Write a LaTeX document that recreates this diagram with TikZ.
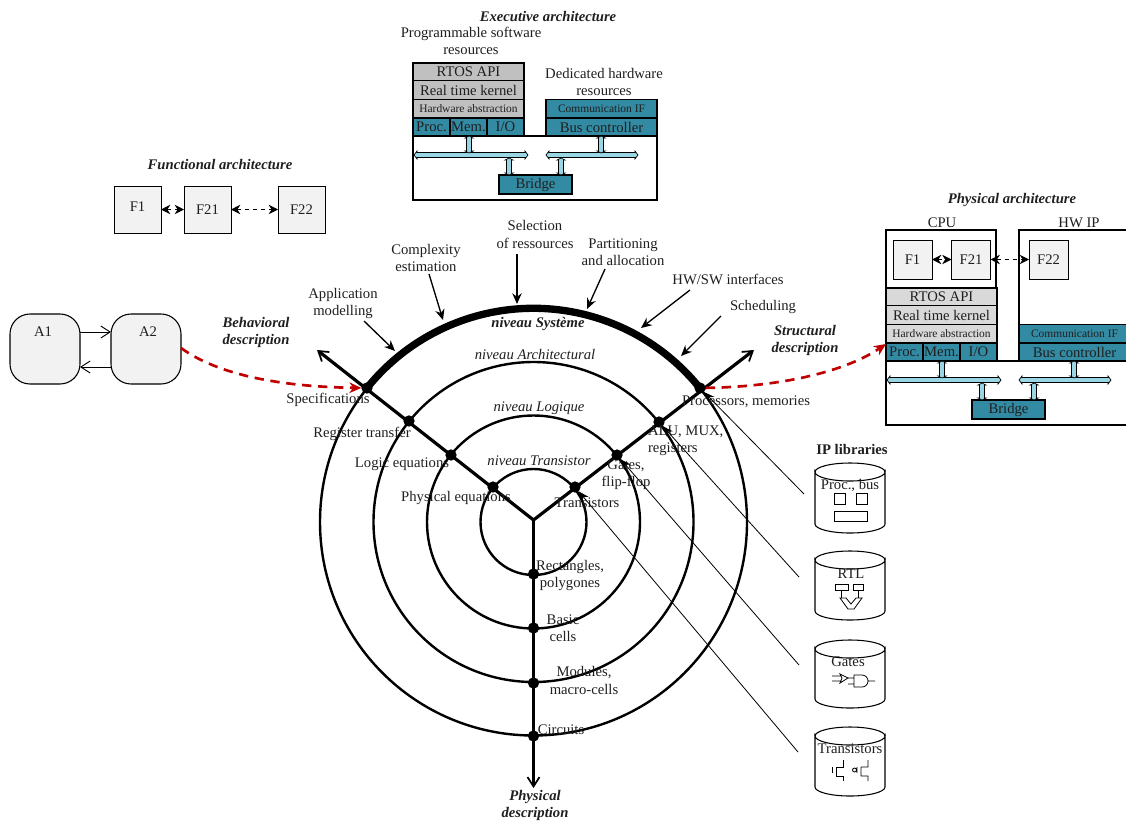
\documentclass[tikz,border=0pt]{standalone}
\usepackage{fontspec}
\setmainfont{Liberation Serif}
\usetikzlibrary{arrows.meta}
\definecolor{teal1}{HTML}{338AA3}
\definecolor{gray1}{HTML}{C0C0C0}
\definecolor{gray2}{HTML}{D9D9D9}
\definecolor{pale}{HTML}{F2F2F2}
\definecolor{busc}{HTML}{99D5E3}
\definecolor{redd}{HTML}{C00000}
\newcommand{\hbus}[3]{\draw[bline] (#1,#3)--(#1+3,#3-4)--(#1+3,#3-2.5)--(#2-3,#3-2.5)--(#2-3,#3-4)--(#2,#3)--(#2-3,#3+4)--(#2-3,#3+2.5)--(#1+3,#3+2.5)--(#1+3,#3+4)--cycle;}
\newcommand{\vbus}[3]{\draw[bline] (#1,#2)--(#1-4,#2+2)--(#1-2.5,#2+2)--(#1-2.5,#3-2)--(#1-4,#3-2)--(#1,#3)--(#1+4,#3-2)--(#1+2.5,#3-2)--(#1+2.5,#2+2)--(#1+4,#2+2)--cycle;}
\newcommand{\cyl}[2]{\draw[thin1,fill=white] (815,#1+9) arc[start angle=180,end angle=0,x radius=35,y radius=9] -- (885,#2-9) arc[start angle=0,end angle=180,x radius=35,y radius=9] -- cycle;
\draw[thin1] (815,#1+9) arc[start angle=180,end angle=360,x radius=35,y radius=9];}
\newcommand{\stack}[1]{%
\node[blk,fill=#1,minimum width=111*0.75pt,minimum height=18*0.75pt] (rtos) at (468.5,72) {RTOS API};
\node[blk,fill=#1,minimum width=111*0.75pt,minimum height=18.5*0.75pt] (rtk) at (468.5,90) {Real time kernel};
\node[blk,fill=#1,minimum width=111*0.75pt,minimum height=18.5*0.75pt,font=\fontsize{8.6}{9}\selectfont] (hwa) at (468.5,108.5) {Hardware abstraction};
\node[blk,fill=teal1,minimum width=37*0.75pt,minimum height=18*0.75pt] (proc) at (431.5,127) {Proc.};
\node[blk,fill=teal1,minimum width=37*0.75pt,minimum height=18*0.75pt] (mem) at (468.5,127) {Mem.};
\node[blk,fill=teal1,minimum width=37*0.75pt,minimum height=18*0.75pt] (io) at (505.5,127) {I/O};
\node[blk,fill=teal1,minimum width=111*0.75pt,minimum height=18.5*0.75pt,font=\fontsize{8.6}{9}\selectfont] (comm) at (601.5,108.5) {Communication IF};
\node[blk,fill=teal1,minimum width=111*0.75pt,minimum height=18*0.75pt] (busc) at (601.5,127) {Bus controller};
\draw[thin1] (413,136) rectangle (657,200);
\node[blk,fill=teal1,minimum width=73*0.75pt,minimum height=19*0.75pt] (bridge) at (535.5,184.5) {Bridge};
\hbus{414}{528}{155}\hbus{546}{638}{155}
\vbus{469}{136}{153}\vbus{509}{158}{175}\vbus{561}{158}{175}\vbus{601}{136}{153}
}
\tikzset{
 x=0.75pt,y=-0.75pt,
 every node/.style={inner sep=0pt,outer sep=0pt,font=\fontsize{11}{12.8}\selectfont,align=center,text=black!88},
 blk/.style={draw=black,line width=0.8pt,inner sep=0pt},
 thin1/.style={draw=black,line width=0.8pt},
 bline/.style={draw=black,line width=0.5pt,fill=busc},
 fbox/.style={draw=black,line width=0.6pt,fill=pale},
 lab/.style={font=\fontsize{11}{12.8}\selectfont\bfseries\itshape},
 level/.style={font=\fontsize{11}{12.8}\selectfont\itshape},
 dot/.style={circle,fill=black,minimum size=8.5pt},
 ring/.style={draw=black,line width=1.8pt},
 spoke/.style={draw=black,line width=2.4pt,-{Straight Barb[length=7pt,width=9pt,line width=1.3pt]}},
 call/.style={draw=black,line width=1pt,-{Stealth[length=8pt,width=7pt]}},
 libl/.style={draw=black,line width=0.6pt,-{Stealth[length=8pt,width=6pt]}},
 redc/.style={draw=redd,line width=2pt,dash pattern=on 7pt off 5pt,-{Stealth[length=9pt,width=8pt]}},
 dd/.style={draw=black,line width=0.6pt,dashed,{Stealth[length=7pt,width=7pt]}-{Stealth[length=7pt,width=7pt]}},
}
\begin{document}
\begin{tikzpicture}
\clip (0,0) rectangle (1126,821);
\fill[white] (0,0) rectangle (1126,821);
% titles
\node[lab] (t1) at (548,16) {Executive architecture};
\node (t1a) at (471,41) {Programmable software\\resources};
\node (t1b) at (604,82) {Dedicated hardware\\resources};
\stack{gray1}
% functional
\node[lab] (t2) at (220,164) {Functional architecture};
\node[fbox,minimum width=47*0.75pt,minimum height=47*0.75pt] (f1) at (137.5,209.5) {};
\node (f1t) at (137.5,207) {F1};
\node[fbox,minimum width=47*0.75pt,minimum height=47*0.75pt] (f21) at (207.5,209.5) {F21};
\node[fbox,minimum width=47*0.75pt,minimum height=47*0.75pt] (f22) at (301.5,209.5) {F22};
\draw[dd] (f1) -- (f21);
\draw[dd] (f21) -- (f22);
% behavioural
\node[fbox,line width=0.8pt,minimum width=70*0.75pt,minimum height=70*0.75pt,rounded corners=15pt] (a1) at (45,349) {};
\node[fbox,line width=0.8pt,minimum width=70*0.75pt,minimum height=70*0.75pt,rounded corners=15pt] (a2) at (146,349) {};
\node (a1t) at (43,332) {A1};
\node (a2t) at (148,332) {A2};
\draw[draw=black,line width=0.7pt,-{Straight Barb[length=7pt,width=9pt]}] (a1.east|-0,332) -- (a2.west|-0,332);
\draw[draw=black,line width=0.7pt,-{Straight Barb[length=7pt,width=9pt]}] (a2.west|-0,367) -- (a1.east|-0,367);
\node[lab] (t3) at (256,332) {Behavioral\\description};
\node[lab] (t4) at (805,340) {Structural\\description};
% physical
\node[lab] (t5) at (1012,200) {Physical architecture};
\node (cput) at (942,223) {CPU};
\node (hwt) at (1079,223) {HW IP};
\draw[thin1] (886,230) rectangle (996,288);
\draw[thin1] (1019,230) rectangle (1140,325);
\begin{scope}[shift={(473,225)}]
\stack{gray2}
\end{scope}
\node[fbox,minimum width=39*0.75pt,minimum height=39*0.75pt] (pf1) at (912.5,259.5) {F1};
\node[fbox,minimum width=39*0.75pt,minimum height=39*0.75pt] (pf21) at (971,259.5) {F21};
\node[fbox,minimum width=39*0.75pt,minimum height=39*0.75pt] (pf22) at (1048.5,259.5) {F22};
\draw[dd] (pf1) -- (pf21);
\draw[dd] (pf21) -- (pf22);
% rings
\coordinate (c) at (533.5,522);
\coordinate (y) at (533.5,520);
\draw[ring] (c) circle[radius=53];
\draw[ring] (c) circle[radius=106.5];
\draw[ring] (c) circle[radius=160];
\draw[ring] (c) circle[radius=213.5];
\draw[black,line width=5.5pt] (367,388) arc[start angle=-141.2,end angle=-38.8,radius=213.5];
% dots
\foreach \n/\x/\y in {l1/493/487,l2/451/455,l3/409/421,l4/367/388,r1/575/487,r2/617/455,r3/659/422,r4/700/388,d1/533.5/574,d2/533.5/628,d3/533.5/683,d4/533.5/736}
  \node[dot] (\n) at (\x,\y) {};
\coordinate (endl) at (317,350);
\coordinate (endr) at (754,350);
\coordinate (endd) at (533.5,788);
\draw[spoke] (y) -- (endl);
\draw[spoke] (y) -- (endr);
\draw[spoke] (y) -- (endd);
% levels
\node[lab] (n1) at (538,324) {niveau Système};
\node[level] (n2) at (535,354) {niveau Architectural};
\node[level] (n3) at (539,408) {niveau Logique};
\node[level] (n4) at (539,461) {niveau Transistor};
% top labels
\node (p1) at (343,303.5) {Application\\modelling};
\node (p2) at (426,258) {Complexity\\estimation};
\node (p3) at (535,234.5) {Selection\\of ressources};
\node (p4) at (623,252) {Partitioning\\and allocation};
\node (p5) at (728,279) {HW/SW interfaces};
\node (p6) at (763,307) {Scheduling};
\coordinate (a1s) at (364,321); \coordinate (a1e) at (395,351);
\coordinate (a2s) at (429,274); \coordinate (a2e) at (443,320);
\coordinate (a3s) at (517,254); \coordinate (a3e) at (517,304);
\coordinate (a4s) at (605,269); \coordinate (a4e) at (587,309);
\coordinate (a5s) at (690,290); \coordinate (a5e) at (641,328);
\coordinate (a6s) at (721,316); \coordinate (a6e) at (681,356);
\foreach \i in {1,...,6} \draw[call] (a\i s) -- (a\i e);
% red curves
\draw[redc] (a2.east|-0,348) .. controls (225,380) and (300,387) .. (l4);
\draw[redc] (r4) .. controls (770,387) and (840,375) .. (886,344);
% left spoke labels
\node (s1) at (328,400) {Specifications};
\node (s2) at (362,434) {Register transfer};
\node (s3) at (402,464) {Logic equations};
\node (s4) at (456,498) {Physical equations};
\node (s5) at (746,402) {Processors, memories};
\node[anchor=west,align=left] (s6) at (648,441) {ALU, MUX,\\registers};
\node (s7) at (626,474.5) {Gates,\\flip-flop};
\node (s8) at (587,503) {Transistors};
\node (s9) at (570,575.5) {Rectangles,\\polygones};
\node (s10) at (563,628.5) {Basic\\cells};
\node (s11) at (584,680.5) {Modules,\\macro-cells};
\node (s12) at (561,730) {Circuits};
\node[lab] (t6) at (535,805) {Physical\\description};
% libraries
\node[font=\fontsize{11}{12.8}\selectfont\bfseries] (ipl) at (852,449) {IP libraries};
\coordinate (b1) at (804,494);
\coordinate (b2) at (799,577);
\coordinate (b3) at (799,665);
\coordinate (b4) at (798,752);
\draw[libl] (b1) -- (r4);
\draw[libl] (b2) -- (r3);
\draw[libl] (b3) -- (r2);
\draw[libl] (b4) -- (r1);
\cyl{463}{533}
\cyl{551}{620}
\cyl{640}{708}
\cyl{727}{796}
\node (c1) at (850,486) {Proc., bus};
\node (c2) at (851,574) {RTL};
\node (c3) at (848,662) {Gates};
\node (c4) at (850,749) {Transistors};
\draw[thin1,line width=0.6pt] (834,493) rectangle (845,504);
\draw[thin1,line width=0.6pt] (856,493) rectangle (867,504);
\draw[thin1,line width=0.6pt] (834,511) rectangle (867,521);
% rtl icon
\draw[thin1,line width=0.6pt] (835,584) rectangle (848,590);
\draw[thin1,line width=0.6pt] (853,584) rectangle (863,590);
\draw[thin1,line width=0.6pt] (841,590)--(841,598) (858,590)--(858,598);
\draw[thin1,line width=0.6pt] (840,598)--(846,598)--(851,604)--(856,598)--(862,598)--(854,609)--(848,609)--cycle;
% gate icon
\draw[thin1,line width=0.6pt] (832,676)--(841,676) (832,681)--(841,681) (840,674)--(848,678)--(840,683)--(842,678)--cycle;
\draw[thin1,line width=0.6pt] (848,678)--(854,678) (848,684)--(854,684) (854,675)--(862,675) arc[start angle=-90,end angle=90,radius=6] --(854,687)--cycle (868,681)--(875,681);
% transistor icons
\draw[thin1,line width=0.6pt] (832,767)--(832,773) (836,767)--(836,776) (836,767)--(843,767)--(843,760) (836,776)--(843,776)--(843,781);
\draw[thin1,line width=0.6pt] (861,767)--(861,776) (861,767)--(868,767)--(868,760) (861,776)--(868,776)--(868,781) (857,767)--(857,773) (854.5,770) circle[radius=2];
\end{tikzpicture}
\end{document}
